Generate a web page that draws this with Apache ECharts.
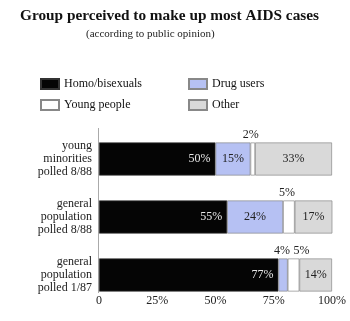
<!DOCTYPE html>
<html>
<head>
<meta charset="utf-8">
<script src="https://cdn.jsdelivr.net/npm/echarts@6/dist/echarts.min.js"></script>
<style>html,body{margin:0;padding:0;background:#fff}#c{width:350px;height:321px}</style>
</head>
<body>
<div id="c"></div>
<script>
const categories = ['young\nminorities\npolled 8/88', 'general\npopulation\npolled 8/88', 'general\npopulation\npolled 1/87'];
const seriesNames = ['Homo/bisexuals', 'Drug users', 'Young people', 'Other'];
const homo = [50, 55, 77];
const drug = [15, 24, 4];
const youngPeople = [2, 5, 5];
const other = [33, 17, 14];
const tickLabels = ['0', '25%', '50%', '75%', '100%'];

const FONT = '"Liberation Serif", "DejaVu Serif", serif';
const chart = echarts.init(document.getElementById('c'), null, {renderer: 'canvas'});

function mk(name, vals, color, border, labelFn) {
  return {
    name: name, type: 'bar', stack: 'all', barWidth: 33,
    itemStyle: {color: color, borderColor: border, borderWidth: 0.7},
    emphasis: {disabled: true},
    data: vals.map(function (v, i) { return {value: v, label: labelFn(v, i)}; })
  };
}
const base = {show: true, fontFamily: FONT, fontSize: 12, formatter: '{c}%'};
const legendCommon = {orient: 'vertical', top: 78, padding: 0,
  itemWidth: 18, itemHeight: 10, itemGap: 9, icon: 'rect',
  textStyle: {fontFamily: FONT, fontSize: 12, color: '#111'}};

chart.setOption({
  animation: false,
  backgroundColor: '#fff',
  title: [
    {text: 'Group perceived to make up most AIDS cases', left: 20, top: 9, padding: 0,
     textStyle: {fontFamily: FONT, fontWeight: 'bold', fontSize: 15.3, color: '#111'}},
    {text: '(according to public opinion)', left: 86, top: 29, padding: 0,
     textStyle: {fontFamily: FONT, fontWeight: 'normal', fontSize: 11, color: '#222'}}
  ],
  legend: [
    Object.assign({data: [seriesNames[0], seriesNames[2]], left: 40}, legendCommon),
    Object.assign({data: [seriesNames[1], seriesNames[3]], left: 188}, legendCommon)
  ],
  grid: {left: 99, right: 18, top: 130, bottom: 17},
  xAxis: {
    type: 'value', min: 0, max: 100, interval: 25, offset: -12,
    axisLine: {show: false}, axisTick: {show: false}, splitLine: {show: false},
    axisLabel: {margin: 3, fontFamily: FONT, fontSize: 12, color: '#222',
      formatter: function (v) { return tickLabels[Math.round(v / 25)]; }}
  },
  yAxis: {
    type: 'category', inverse: true, data: categories,
    axisLine: {show: false}, axisTick: {show: false},
    axisLabel: {margin: 7, fontFamily: FONT, fontSize: 12, lineHeight: 13, color: '#222', align: 'right'}
  },
  graphic: [{type: 'line', shape: {x1: 98.5, y1: 128, x2: 98.5, y2: 293}, style: {stroke: '#aaa', lineWidth: 1}, silent: true}],
  series: [
    mk(seriesNames[0], homo, '#050505', '#333', function () {
      return Object.assign({}, base, {position: 'insideRight', distance: 5, color: '#e8e8e8'});
    }),
    mk(seriesNames[1], drug, '#b6c1f3', '#888', function (v) {
      return Object.assign({}, base, v < 6 ? {position: 'top', distance: 2, color: '#222', offset: [-1, 0]} : {position: 'inside', color: '#222'});
    }),
    mk(seriesNames[2], youngPeople, '#ffffff', '#888', function (v, i) {
      return Object.assign({}, base, {position: 'top', distance: 2, color: '#222', offset: [drug[i] < 6 ? 8 : -2, 0]});
    }),
    mk(seriesNames[3], other, '#d9d9d9', '#888', function () {
      return Object.assign({}, base, {position: 'inside', color: '#222'});
    })
  ]
});
</script>
</body>
</html>
